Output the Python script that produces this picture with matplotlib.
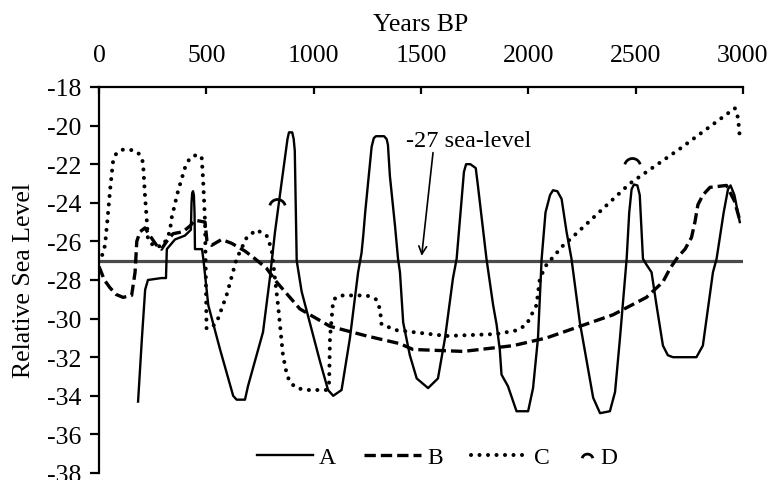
import numpy as np
import matplotlib
matplotlib.use("Agg")
import matplotlib.pyplot as plt
from matplotlib.path import Path

plt.rcParams['font.family'] = ['Liberation Serif', 'DejaVu Serif']
plt.rcParams['axes.unicode_minus'] = False

# ---- data (Years BP, relative sea level) ----
A_years = [182, 200, 215, 228, 290, 312, 316, 354, 400, 428, 431, 434, 438, 442, 445, 447, 480, 487,
           509, 564, 625, 641, 680, 694, 764, 796, 820, 850, 878, 885, 900, 907, 912, 921, 944,
           1029, 1067, 1091, 1130, 1169, 1207, 1223, 1231, 1240, 1254, 1270, 1280, 1290, 1328,
           1340, 1346, 1355, 1379, 1393, 1402, 1417, 1448, 1480, 1533, 1579, 1612, 1649, 1666,
           1700, 1710, 1730, 1755, 1765, 1805, 1836, 1852, 1867, 1875, 1905, 1945, 1999, 2022,
           2045, 2062, 2080, 2101, 2115, 2135, 2155, 2178, 2201, 2240, 2302, 2334, 2380, 2404,
           2427, 2458, 2470, 2481, 2492, 2508, 2519, 2534, 2550, 2574, 2597, 2627, 2650, 2674,
           2783, 2813, 2860, 2877, 2910, 2930, 2942, 2960, 2985]
A_level = [-34.3, -31.0, -28.5, -28.0, -27.9, -27.9, -26.4, -25.9, -25.7, -25.4, -24.0, -23.5,
           -23.4, -23.6, -24.5, -26.4, -26.4, -27.0, -29.3, -31.6, -34.0, -34.2, -34.2, -33.5,
           -30.7, -27.9, -25.5, -23.0, -20.7, -20.35, -20.35, -20.7, -21.3, -27.0, -28.6,
           -32.2, -33.7, -34.0, -33.7, -31.0, -27.6, -26.6, -25.7, -24.5, -22.9, -21.1, -20.65,
           -20.55, -20.55, -20.7, -21.0, -22.6, -25.2, -26.9, -27.6, -30.2, -31.9, -33.1, -33.6,
           -33.1, -31.0, -27.9, -26.9, -22.4, -22.0, -22.0, -22.2, -23.1, -26.9, -29.3, -30.3,
           -31.6, -32.9, -33.5, -34.8, -34.8, -33.6, -31.0, -26.9, -24.5, -23.6, -23.35, -23.4,
           -23.8, -25.5, -26.9, -30.2, -34.1, -34.9, -34.8, -33.8, -31.0, -26.9, -24.5, -23.3,
           -23.05, -23.1, -23.6, -26.9, -27.2, -27.6, -29.3, -31.4, -31.9, -32.0, -32.0, -31.4,
           -27.6, -26.9, -24.5, -23.3, -23.1, -23.6, -25.0]

B_years = [0, 25, 51, 80, 112, 152, 168, 176, 191, 214, 237, 268, 291, 315, 345, 391, 424, 447, 494,
           503, 525, 571, 618, 680, 727, 781, 827, 936, 1076, 1247, 1402, 1463, 1697, 1930,
           2085, 2240, 2395, 2550, 2627, 2660, 2697, 2730, 2760, 2776, 2790, 2813, 2846,
           2923, 2960, 2985]
B_level = [-27.3, -28.0, -28.4, -28.75, -28.9, -28.8, -27.6, -26.0, -25.5, -25.3, -25.7, -26.2,
           -26.4, -26.0, -25.6, -25.5, -25.2, -24.9, -25.0, -26.0, -26.2, -25.9, -26.1, -26.5,
           -26.9, -27.4, -28.1, -29.5, -30.4, -30.9, -31.3, -31.6, -31.7, -31.4, -31.0, -30.4,
           -29.8, -28.9, -28.1, -27.4, -26.8, -26.4, -25.8, -25.0, -24.1, -23.6, -23.2, -23.1,
           -23.9, -24.9]

C_years = [15, 28, 40, 51, 65, 80, 106, 140, 168, 190, 205, 214, 222, 228, 260, 300, 330, 338,
           368, 400, 420, 440, 470, 478, 485, 494, 501, 520, 548, 594, 641, 688, 734, 781, 804,
           834, 857, 875, 890, 920, 967, 1060, 1072, 1076, 1091, 1110, 1137, 1247, 1290, 1309,
           1316, 1386, 1619, 1852, 1950, 1992, 2038, 2054, 2085, 2163, 2194, 2473, 2706, 2962,
           2977, 2985]
C_level = [-26.7, -26.2, -24.8, -23.4, -21.9, -21.45, -21.25, -21.25, -21.3, -21.5, -21.9, -23.6,
           -24.8, -25.9, -26.3, -26.2, -25.5, -24.8, -23.4, -22.2, -21.75, -21.55, -21.55, -21.6,
           -22.8, -25.0, -30.5, -30.5, -30.2, -28.8, -26.9, -25.8, -25.4, -25.7, -26.4, -29.3,
           -31.9, -32.9, -33.3, -33.6, -33.7, -33.7, -33.3, -31.0, -29.05, -28.85, -28.8, -28.8,
           -29.0, -29.5, -30.3, -30.6, -30.9, -30.8, -30.6, -30.3, -29.3, -27.9, -27.2, -26.2,
           -25.9, -23.0, -21.2, -19.1, -19.6, -20.6]

D_years = [828, 2483]
D_level = [-23.9, -21.8]

ref_level = -27
annot_text = "-27 sea-level"
x_ticks = [0, 500, 1000, 1500, 2000, 2500, 3000]
y_ticks = list(range(-38, -17, 2))

# ---- figure ----
FS = 18.5
fig = plt.figure(figsize=(7.69, 4.81), dpi=100)
ax = fig.add_axes([99/769, 1-474/481, (743-99)/769, (474-88)/481])

ax.axhline(ref_level, color='#4a4a4a', lw=2.3, zorder=1)

lA, = ax.plot(A_years, A_level, color='black', lw=1.7, label='A', zorder=3)
lB, = ax.plot(B_years, B_level, color='black', lw=2.4, linestyle=(0, (3.4, 1.5)),
              dash_capstyle='butt', label='B', zorder=3)
lC, = ax.plot(C_years, C_level, color='black', lw=2.9, linestyle=(0, (0.01, 2.1)),
              dash_capstyle='round', label='C', zorder=3)

th = np.linspace(np.radians(15), np.radians(165), 30)
arc = Path(np.column_stack([np.cos(th), np.sin(th) - 0.75]))
lD, = ax.plot(D_years, D_level, linestyle='none', marker=arc, markersize=11,
              markerfacecolor='none', markeredgecolor='black', markeredgewidth=2.0,
              label='D', zorder=4)

ax.text(1723, -20.75, annot_text, ha='center', va='center', fontsize=17.5)
ax.annotate('', xy=(1503, -26.75), xytext=(1556, -21.4),
            arrowprops=dict(arrowstyle='->', color='black', lw=1.2,
                            shrinkA=0, shrinkB=0, mutation_scale=14))

ax.set_xlim(0, 3000)
ax.set_ylim(-38, -18)
ax.set_xticks(x_ticks)
ax.set_yticks(y_ticks)
ax.xaxis.tick_top()
ax.xaxis.set_label_position('top')
ax.set_xlabel('Years BP', fontsize=FS, labelpad=10)
ax.set_ylabel('Relative Sea Level', fontsize=FS, labelpad=9)

for s in ['right', 'bottom']:
    ax.spines[s].set_visible(False)
for s in ['left', 'top']:
    ax.spines[s].set_linewidth(1.6)

ax.tick_params(axis='x', direction='in', length=5, width=1.6, pad=15, labelsize=FS,
               top=True, bottom=False)
ax.tick_params(axis='y', direction='out', length=6.5, width=1.6, pad=6, labelsize=FS)

leg1 = ax.legend(handles=[lA, lB, lC], loc='center', bbox_to_anchor=(0.472, 0.041), ncol=3,
                 frameon=False, fontsize=17, handlelength=2.4, handletextpad=0.25,
                 columnspacing=1.2, borderpad=0, borderaxespad=0)
ax.add_artist(leg1)
ax.legend(handles=[lD], loc='center', bbox_to_anchor=(0.775, 0.041), frameon=False,
          fontsize=17, handlelength=0.7, handletextpad=0.2, markerscale=0.7,
          borderpad=0, borderaxespad=0)

fig.savefig('out.png', dpi=100)
